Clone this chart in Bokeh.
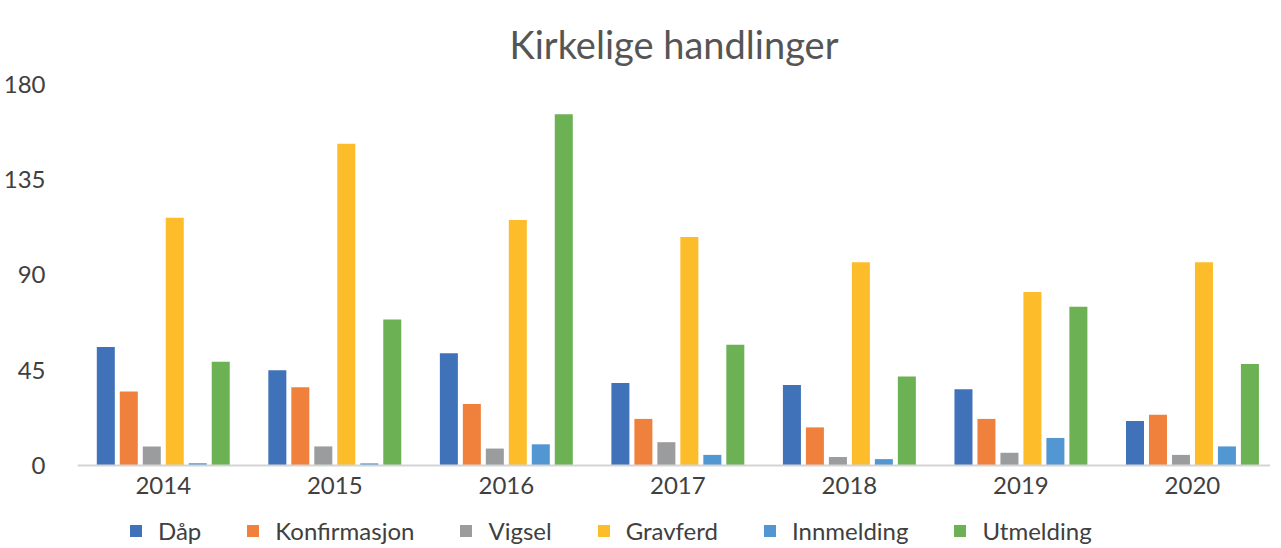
from bokeh.plotting import figure
from bokeh.models import ColumnDataSource, Range1d, FixedTicker, Legend, LegendItem
from bokeh.embed import file_html
from bokeh.resources import INLINE

years = ["2014", "2015", "2016", "2017", "2018", "2019", "2020"]
series = ["Dåp", "Konfirmasjon", "Vigsel", "Gravferd", "Innmelding", "Utmelding"]
daap = [56, 45, 53, 39, 38, 36, 21]
konfirmasjon = [35, 37, 29, 22, 18, 22, 24]
vigsel = [9, 9, 8, 11, 4, 6, 5]
gravferd = [117, 152, 116, 108, 96, 82, 96]
innmelding = [1, 1, 10, 5, 3, 13, 9]
utmelding = [49, 69, 166, 57, 42, 75, 48]
y_ticks = [0, 45, 90, 135, 180]
colors = ["#3F72B9", "#F0813D", "#9B9C9E", "#FDBD2A", "#5297D1", "#6DB155"]

values = [daap, konfirmasjon, vigsel, gravferd, innmelding, utmelding]
FONT = "Lato"
TXT = "#404040"

# frame extends below the zero line so that the x axis (fixed at 0) and the legend fit inside
p = figure(frame_width=1193, frame_height=465, output_backend="svg", toolbar_location=None,
           x_range=Range1d(-0.5, 6.455), y_range=Range1d(-39.7, 180),
           min_border_left=72, min_border_right=0, min_border_top=83,
           min_border_bottom=0,
           title="Kirkelige handlinger")
p.title.align = "center"
p.title.text_font = FONT
p.title.text_font_size = "38px"
p.title.text_font_style = "normal"
p.title.text_color = "#555555"
p.title.standoff = 36

p.outline_line_color = None
p.grid.visible = False

xpos = list(range(len(years)))
pitch = 0.134
items = []
for i, (name, vals) in enumerate(zip(series, values)):
    off = (i - 2.5) * pitch
    src = ColumnDataSource(dict(x=[x + off for x in xpos], top=vals))
    r = p.vbar(x="x", top="top", bottom=0, width=0.105, source=src,
               fill_color=colors[i], line_color=None)
    items.append(LegendItem(label=name, renderers=[r]))

p.xaxis.fixed_location = 0
p.xaxis.ticker = FixedTicker(ticks=xpos)
p.xaxis.major_label_overrides = {i: y for i, y in enumerate(years)}
p.xaxis.axis_line_color = "#d4d4d4"
p.xaxis.axis_line_width = 2
p.xaxis.major_tick_line_color = None
p.xaxis.minor_tick_line_color = None
p.xaxis.major_tick_out = 0
p.xaxis.major_tick_in = 0
p.xaxis.minor_tick_out = 0
p.xaxis.axis_label_standoff = 0
p.xaxis.major_label_text_font = FONT
p.xaxis.major_label_text_font_size = "24px"
p.xaxis.major_label_text_color = TXT
p.xaxis.major_label_standoff = 12

p.yaxis.ticker = FixedTicker(ticks=y_ticks)
p.yaxis.axis_line_color = None
p.yaxis.major_tick_line_color = None
p.yaxis.minor_tick_line_color = None
p.yaxis.major_tick_out = 0
p.yaxis.major_tick_in = 0
p.yaxis.minor_tick_out = 0
p.yaxis.major_label_text_font = FONT
p.yaxis.major_label_text_font_size = "24px"
p.yaxis.major_label_text_color = TXT
p.yaxis.major_label_standoff = 32

legend = Legend(items=items, orientation="horizontal", location=(51, 4),
                label_text_font=FONT, label_text_font_size="24px",
                label_text_color=TXT, glyph_width=15, glyph_height=15,
                label_standoff=15, spacing=44, border_line_color=None,
                background_fill_alpha=0, padding=0, margin=0)
p.add_layout(legend, "center")

open("out.html", "w").write(file_html(p, INLINE))
